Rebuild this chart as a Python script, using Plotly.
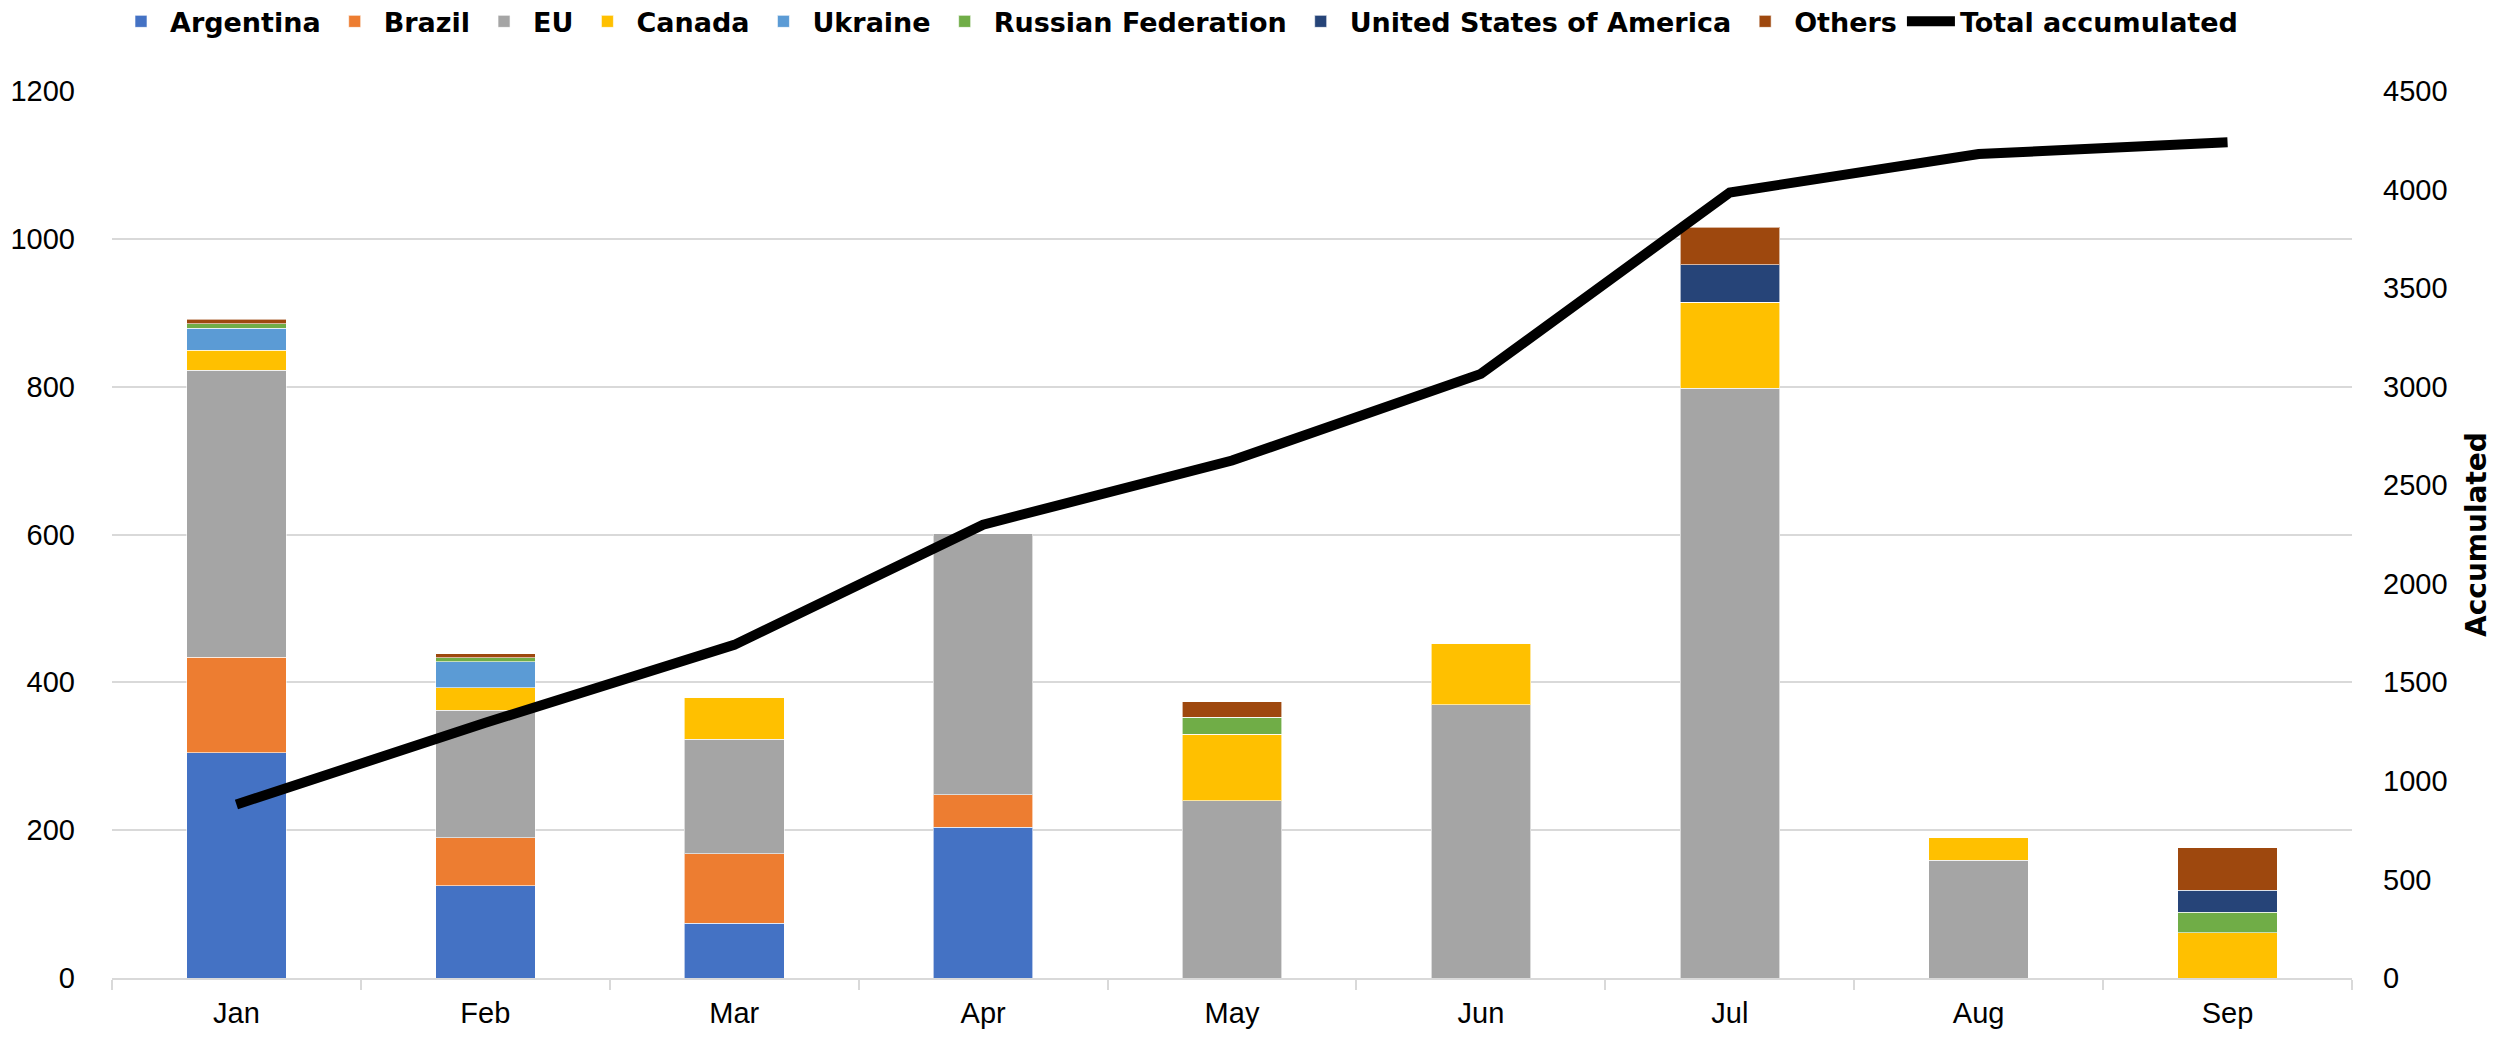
import plotly.graph_objects as go

months = ["Jan", "Feb", "Mar", "Apr", "May", "Jun", "Jul", "Aug", "Sep"]

argentina = [305, 125, 74, 204, 0, 0, 0, 0, 0]
brazil = [129, 65, 94, 44, 0, 0, 0, 0, 0]
eu = [388, 172, 155, 353, 240, 370, 798, 159, 0]
canada = [27, 31, 57, 0, 90, 83, 116, 31, 61]
ukraine = [30, 35, 0, 0, 0, 0, 0, 0, 0]
russia = [6, 5, 0, 0, 23, 0, 0, 0, 28]
usa = [0, 0, 0, 0, 0, 0, 51, 0, 30]
others = [6, 6, 0, 0, 21, 0, 51, 0, 57]
total_accumulated = [880, 1295, 1690, 2300, 2625, 3065, 3985, 4180, 4240]

left_ticks = [0, 200, 400, 600, 800, 1000, 1200]
right_ticks = [0, 500, 1000, 1500, 2000, 2500, 3000, 3500, 4000, 4500]

series = [
    ("Argentina", argentina, "#4472C4"),
    ("Brazil", brazil, "#ED7D31"),
    ("EU", eu, "#A5A5A5"),
    ("Canada", canada, "#FFC000"),
    ("Ukraine", ukraine, "#5B9BD5"),
    ("Russian Federation", russia, "#70AD47"),
    ("United States of America", usa, "#264478"),
    ("Others", others, "#9E480E"),
]

fig = go.Figure()
for name, vals, col in series:
    fig.add_trace(go.Bar(
        x=months, y=vals, name=name,
        marker=dict(color=col, line=dict(color="rgba(255,255,255,0.6)", width=1)),
    ))

fig.add_trace(go.Scatter(
    x=months, y=total_accumulated, name="Total accumulated", mode="lines",
    line=dict(color="black", width=10), yaxis="y2",
))

BOLD = "DejaVu Sans"
TICK = "Liberation Sans"
tick_font = dict(family=TICK, size=29, color="#000000")

fig.update_layout(
    width=2496, height=1038,
    barmode="stack", bargap=0.6,
    plot_bgcolor="white", paper_bgcolor="white",
    margin=dict(l=104, r=152, t=83, b=68, autoexpand=False),
    legend=dict(
        orientation="h", xref="paper", yref="paper",
        x=0.0, xanchor="left", y=1.078, yanchor="middle",
        traceorder="normal",
        font=dict(family=BOLD, size=27, color="#000000", weight="bold"),
        itemwidth=48, tracegroupgap=0,
    ),
    xaxis=dict(
        type="category", automargin=False,
        tickfont=tick_font,
        showline=True, linecolor="#D9D9D9", linewidth=2,
        ticks="outside", tickson="boundaries", ticklen=10, tickcolor="#D9D9D9", tickwidth=2,
        showgrid=False, ticklabelstandoff=8,
    ),
    yaxis=dict(
        range=[0, 1200], tickvals=left_ticks, tickfont=tick_font, automargin=False,
        showgrid=True, gridcolor="#D9D9D9", gridwidth=2,
        zeroline=False, showline=False, ticks="", ticklabelstandoff=36,
    ),
    yaxis2=dict(
        range=[0, 4500], tickvals=right_ticks, tickfont=tick_font, automargin=False,
        overlaying="y", side="right", showgrid=False, zeroline=False, showline=False,
        ticks="", ticklabelstandoff=30,
        title=dict(text="<b>Accumulated</b>", font=dict(family=BOLD, size=28, color="#000000"),
                   standoff=19),
    ),
)

fig.write_html("out.html")
